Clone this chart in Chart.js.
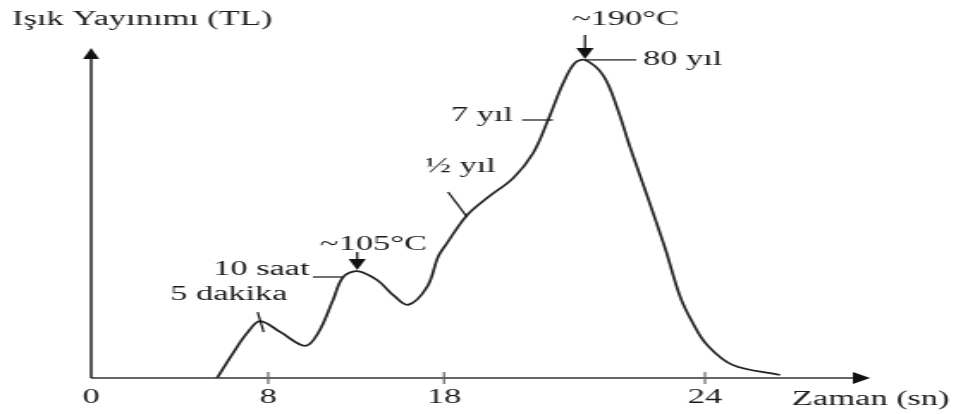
<!DOCTYPE html>
<html>
<head>
<meta charset="utf-8">
<script src="https://cdn.jsdelivr.net/npm/chart.js@4/dist/chart.umd.min.js"></script>
<style>
  html, body { margin: 0; padding: 0; background: #fff; }
</style>
</head>
<body>
<!-- drawn narrow, then stretched sideways like the scanned original -->
<canvas id="tl" width="556" height="414" style="display:block;width:956px;height:414px"></canvas>
<script>
// glow curve, time in seconds (axis is not to scale in the original)
var times = [5.69, 6.42, 7.05, 7.64, 8.68, 10.10, 10.84, 11.69, 12.26, 13.06, 14.19, 15.10,
  15.95, 17.03, 17.66, 18.07, 18.53, 18.99, 19.59, 20.05, 20.39, 20.74, 21.01, 21.24,
  21.66, 21.98, 22.28, 22.67, 23.08, 23.43, 23.72, 24.05, 24.68, 25.82];
var emission = [0, 7.6, 13.6, 17.2, 13.9, 9.7, 13.6, 23.6, 30.5, 32.3, 29.6, 25.1,
  22.1, 27.5, 36.6, 40.8, 49.2, 54.4, 60.4, 68.0, 77.9, 89.1, 95.2, 96.1,
  91.4, 81.6, 69.6, 55.0, 39.3, 24.5, 16.6, 10.0, 3.9, 0.9];

var tickValues = [0, 8, 18, 24];
var tickLabels = ["0", "8", "18", "24"];

var yTitle = "Işık Yayınımı (TL)";
var xTitle = "Zaman (sn)";

var FONT = "'Liberation Serif', 'Times New Roman', serif";
var INK = "#1a1a1a";

// piecewise linear scale: tick values sit at fixed fractions of the axis
var LinearScale = Chart.registry.getScale("linear");
class PiecewiseScale extends LinearScale {
  _frac(v) {
    var k = this.options.knots;
    if (v <= k[0][0]) return k[0][1];
    for (var i = 1; i < k.length; i++) {
      if (v <= k[i][0]) {
        var t = (v - k[i - 1][0]) / (k[i][0] - k[i - 1][0]);
        return k[i - 1][1] + t * (k[i][1] - k[i - 1][1]);
      }
    }
    return k[k.length - 1][1];
  }
  getPixelForValue(v) {
    return this.getPixelForDecimal(this._frac(v));
  }
  getValueForPixel(p) {
    var d = this.getDecimalForPixel(p), k = this.options.knots;
    for (var i = 1; i < k.length; i++) {
      if (d <= k[i][1]) {
        var t = (d - k[i - 1][1]) / (k[i][1] - k[i - 1][1]);
        return k[i - 1][0] + t * (k[i][0] - k[i - 1][0]);
      }
    }
    return k[k.length - 1][0];
  }
}
PiecewiseScale.id = "piecewise";
PiecewiseScale.defaults = LinearScale.defaults;
Chart.register(PiecewiseScale);

function seg(ctx, x1, y1, x2, y2) {
  ctx.beginPath();
  ctx.moveTo(x1, y1);
  ctx.lineTo(x2, y2);
  ctx.stroke();
}
function tri(ctx, pts) {
  ctx.beginPath();
  ctx.moveTo(pts[0], pts[1]);
  ctx.lineTo(pts[2], pts[3]);
  ctx.lineTo(pts[4], pts[5]);
  ctx.closePath();
  ctx.fill();
}
function downArrow(ctx, x, top, tip) {
  seg(ctx, x, top, x, tip - 8);
  tri(ctx, [x, tip, x - 5, tip - 11, x + 5, tip - 11]);
}

var decor = {
  id: "decor",
  beforeDatasetsDraw: function (chart) {
    var ctx = chart.ctx, a = chart.chartArea, x = chart.scales.x;
    ctx.save();
    // x axis with arrow
    ctx.strokeStyle = "#666";
    ctx.fillStyle = "#111";
    ctx.lineWidth = 2;
    seg(ctx, a.left, a.bottom, a.right - 8, a.bottom);
    tri(ctx, [a.right, a.bottom, a.right - 10, a.bottom - 6, a.right - 10, a.bottom + 6]);
    ctx.lineWidth = 1.2;
    tickValues.forEach(function (v) {
      if (v === 0) return;
      var px = x.getPixelForValue(v);
      seg(ctx, px, a.bottom - 6, px, a.bottom + 6);
    });
    // y axis with arrow
    ctx.strokeStyle = "#111";
    ctx.lineWidth = 1.4;
    seg(ctx, a.left, a.bottom, a.left, a.top + 8);
    tri(ctx, [a.left, a.top + 1, a.left - 4.7, a.top + 12, a.left + 4.7, a.top + 12]);
    ctx.restore();
  },
  afterDraw: function (chart) {
    var ctx = chart.ctx, x = chart.scales.x, y = chart.scales.y;
    ctx.save();
    ctx.fillStyle = INK;
    ctx.font = "20px " + FONT;
    ctx.textBaseline = "alphabetic";
    ctx.textAlign = "left";

    ctx.fillText(yTitle, 7, 25);
    ctx.fillText(xTitle, 460.6, 405);

    var p1 = [x.getPixelForValue(times[3]), y.getPixelForValue(emission[3])];
    var p2 = [x.getPixelForValue(times[9]), y.getPixelForValue(emission[9])];
    var p3 = [x.getPixelForValue(times[23]), y.getPixelForValue(emission[23])];

    ctx.fillText("~190°C", 332.7, 25);
    ctx.fillText("80 yıl", 374, 65);
    ctx.fillText("7 yıl", 262.3, 121);
    ctx.fillText("½ yıl", 247.2, 172);
    ctx.fillText("~105°C", 186.1, 250);
    ctx.fillText("10 saat", 123.9, 275);
    ctx.fillText("5 dakika", 98.9, 300);

    ctx.strokeStyle = "#111";
    ctx.fillStyle = "#111";
    ctx.lineWidth = 1.2;
    downArrow(ctx, p3[0], 35, p3[1] - 1);
    downArrow(ctx, p2[0], 252, p2[1] - 1);
    seg(ctx, p3[0], p3[1], 370, p3[1]);
    seg(ctx, 303.6, 120, 321.6, 120);
    seg(ctx, 260.6, 192, 271.6, 217);
    seg(ctx, 182, 277, 199.5, 277);
    seg(ctx, p1[0] - 1.5, p1[1] - 9, p1[0] + 2, p1[1] + 11);
    ctx.restore();
  }
};

new Chart(document.getElementById("tl").getContext("2d"), {
  type: "line",
  data: {
    datasets: [
      {
        label: yTitle,
        data: times.map(function (t, i) { return { x: t, y: emission[i] }; }),
        borderColor: "#222",
        borderWidth: 1.7,
        pointRadius: 0,
        fill: false,
        tension: 0.35,
      },
    ],
  },
  options: {
    responsive: false,
    devicePixelRatio: 1,
    animation: false,
    events: [],
    layout: { padding: { left: 53, right: 50, top: 47, bottom: 0 } },
    plugins: {
      legend: { display: false },
      tooltip: { enabled: false },
    },
    scales: {
      x: {
        type: "piecewise",
        min: 0,
        max: 28,
        knots: [[0, 0], [8, 0.2273], [18, 0.4531], [24, 0.7881], [28, 1]],
        grid: { display: false, drawTicks: false },
        border: { display: false },
        afterBuildTicks: function (s) {
          s.ticks = tickValues.map(function (v) { return { value: v }; });
        },
        afterFit: function (s) { s.height = 36; },
        ticks: {
          autoSkip: false,
          maxRotation: 0,
          padding: 8,
          color: INK,
          font: { family: FONT, size: 20 },
          callback: function (v, i) { return tickLabels[i]; },
        },
      },
      y: {
        display: false,
        min: 0,
        max: 100,
      },
    },
  },
  plugins: [decor],
});
</script>
</body>
</html>
